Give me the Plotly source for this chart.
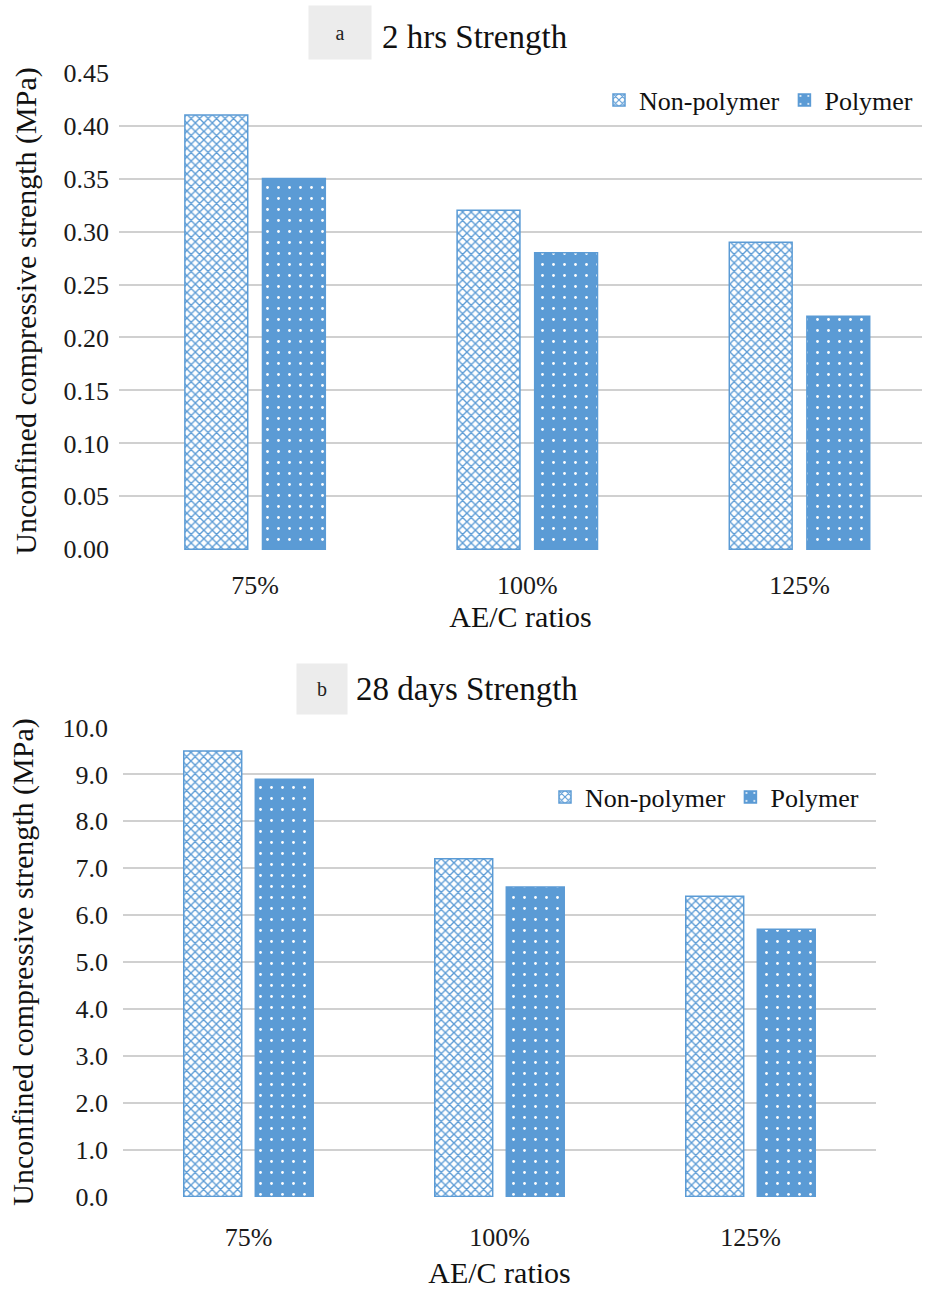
import plotly.graph_objects as go

# AE/C ratio categories
ratios = ["75%", "100%", "125%"]

# Unconfined compressive strength (MPa)
hrs2_non_polymer = [0.41, 0.32, 0.29]
hrs2_polymer = [0.35, 0.28, 0.22]
days28_non_polymer = [9.5, 7.2, 6.4]
days28_polymer = [8.9, 6.6, 5.7]

series_names = ["Non-polymer", "Polymer"]

W, H = 925, 1290
BLUE = "#5b9bd5"
GRID = "#d0d0d0"
SERIF = "Liberation Serif"


def px_x(p):
    return p / W


def px_y(p):
    return 1 - p / H


np_style = dict(
    color="white",
    line=dict(color=BLUE, width=1.5),
    pattern=dict(shape="x", fgcolor=BLUE, bgcolor="white", size=6, solidity=0.4,
                 fillmode="replace"),
)
p_style = dict(
    color=BLUE,
    line=dict(color=BLUE, width=1.5),
    pattern=dict(shape=".", fgcolor="white", bgcolor=BLUE, size=11, solidity=0.05,
                 fillmode="replace"),
)

fig = go.Figure()
fig.add_trace(go.Bar(x=ratios, y=hrs2_non_polymer, name=series_names[0], marker=np_style,
                     xaxis="x", yaxis="y", legend="legend", offsetgroup="a1"))
fig.add_trace(go.Bar(x=ratios, y=hrs2_polymer, name=series_names[1], marker=p_style,
                     xaxis="x", yaxis="y", legend="legend", offsetgroup="a2"))
fig.add_trace(go.Bar(x=ratios, y=days28_non_polymer, name=series_names[0], marker=np_style,
                     xaxis="x2", yaxis="y2", legend="legend2", offsetgroup="b1"))
fig.add_trace(go.Bar(x=ratios, y=days28_polymer, name=series_names[1], marker=p_style,
                     xaxis="x2", yaxis="y2", legend="legend2", offsetgroup="b2"))

tick_font = dict(family=SERIF, size=26, color="#1a1a1a")
title_font = dict(family=SERIF, size=30, color="#111111")
legend_font = dict(family=SERIF, size=26, color="#111111")

common_y = dict(showgrid=True, gridcolor=GRID, gridwidth=2, zeroline=False,
                showline=False, ticks="", tickfont=tick_font, automargin=False)
common_x = dict(showgrid=False, zeroline=False, showline=False, ticks="",
                tickfont=tick_font, type="category", automargin=False)

fig.update_layout(
    width=W, height=H,
    margin=dict(l=0, r=0, t=0, b=0, autoexpand=False),
    paper_bgcolor="white", plot_bgcolor="white",
    barmode="group", bargap=0.43, bargroupgap=0.19,
    font=dict(family=SERIF),
    xaxis=dict(common_x, domain=[px_x(119), px_x(922)], range=[-0.5, 2.45],
               anchor="y", ticklabelstandoff=17,
               title=dict(text="AE/C ratios", font=title_font, standoff=0)),
    yaxis=dict(common_y, domain=[px_y(550), px_y(72)], range=[-0.0006, 0.4506],
               dtick=0.05, tickformat=".2f", anchor="x", ticklabelstandoff=9,
               title=dict(text="Unconfined compressive strength (MPa)", font=title_font,
                          standoff=18)),
    xaxis2=dict(common_x, domain=[px_x(123), px_x(876)], range=[-0.5, 2.5],
                anchor="y2", ticklabelstandoff=22,
                title=dict(text="AE/C ratios", font=title_font, standoff=10)),
    yaxis2=dict(common_y, domain=[px_y(1197), px_y(727)], range=[-0.012, 10.012],
                dtick=1, tickformat=".1f", anchor="x2", ticklabelstandoff=14,
                title=dict(text="Unconfined compressive strength (MPa)", font=title_font,
                           standoff=20)),
    legend=dict(orientation="h", x=px_x(918), xanchor="right", y=px_y(100), yanchor="middle",
                font=legend_font, bgcolor="rgba(0,0,0,0)", itemclick=False, itemwidth=30),
    legend2=dict(orientation="h", x=px_x(864), xanchor="right", y=px_y(797), yanchor="middle",
                 font=legend_font, bgcolor="rgba(0,0,0,0)", itemclick=False, itemwidth=30),
    showlegend=True,
)

# Panel labels and titles
panels = [
    ("a", 340, 33, 60, 51, "2 hrs Strength", 380, 37),
    ("b", 322, 689, 48, 48, "28 days Strength", 354, 689),
]
for tag, bx, by, bw, bh, text, tx, ty in panels:
    fig.add_annotation(x=px_x(bx), y=px_y(by), xref="paper", yref="paper",
                       text=tag, showarrow=False, width=bw, height=bh,
                       bgcolor="#ececec", font=dict(family=SERIF, size=20, color="#222"),
                       xanchor="center", yanchor="middle")
    fig.add_annotation(x=px_x(tx), y=px_y(ty), xref="paper", yref="paper",
                       text=text, showarrow=False, xanchor="left", yanchor="middle",
                       font=dict(family=SERIF, size=33, color="#111"))

fig.write_html("out.html")
